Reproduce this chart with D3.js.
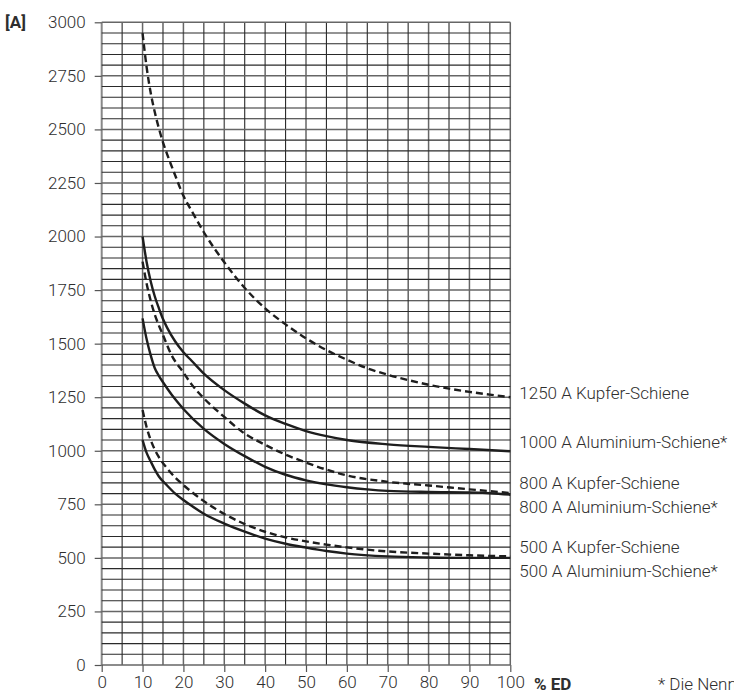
<!DOCTYPE html>
<html><head><meta charset="utf-8">
<script src="https://cdn.jsdelivr.net/npm/d3@7"></script>
<style>
body{margin:0;background:#fff;}
svg{display:block;font-family:Roboto,"Liberation Sans",sans-serif;}
</style></head><body>
<svg id="c" width="734" height="693"></svg>
<script>
// ---- data ----
const xTicks = [0,10,20,30,40,50,60,70,80,90,100];
const yTicks = [0,250,500,750,1000,1250,1500,1750,2000,2250,2500,2750,3000];
const seriesNames = ["1250 A Kupfer-Schiene","1000 A Aluminium-Schiene*","800 A Kupfer-Schiene","800 A Aluminium-Schiene*","500 A Kupfer-Schiene","500 A Aluminium-Schiene*"];
const seriesDashed = [true,false,true,false,true,false];
const edValues = [
  [10,11,12,13,14,15,16,18,20,22,25,30,35,40,45,50,55,60,65,70,75,80,85,90,95,100],
  [10,11,12,13,14,15,16,18,20,22,25,30,35,40,45,50,55,60,70,80,90,100],
  [10,11,12,13,14,15,17,20,22,25,30,35,40,45,50,55,60,70,80,90,100],
  [10,11,12,13,14,15,16,18,20,25,30,35,40,45,50,55,60,65,70,80,90,95,100],
  [10,11,12,13,14,16,18,20,22,25,30,35,40,45,50,55,60,70,80,90,100],
  [10,11,12,13,14,16,18,20,22,25,30,35,40,45,50,55,60,70,80,90,100]
];
const ampValues = [
  [2950,2790,2670,2580,2505,2440,2385,2285,2190,2120,2020,1880,1760,1665,1590,1525,1470,1425,1385,1355,1330,1308,1290,1275,1262,1250],
  [2000,1880,1790,1720,1665,1615,1575,1510,1460,1420,1360,1283,1220,1165,1125,1092,1068,1050,1030,1018,1008,998],
  [1883,1780,1700,1635,1585,1540,1450,1365,1310,1245,1158,1080,1028,982,945,912,885,855,838,820,803],
  [1618,1520,1445,1385,1350,1320,1292,1240,1195,1102,1032,975,925,888,862,843,830,820,813,808,806,802,795],
  [1190,1110,1050,1005,970,918,875,840,808,765,705,658,622,596,577,562,549,530,520,512,507],
  [1050,990,950,912,880,838,800,770,743,706,660,622,590,566,548,532,520,507,502,500,500]
];
const labelAmps = [1270,1042,851,739,552,440];

// ---- layout ----
const svg = d3.select("#c");
const x = d3.scaleLinear().domain([0,100]).range([101.7,510.3]);
const y = d3.scaleLinear().domain([0,3000]).range([665,22.3]);
const ink = "#1e1e1e";
const txt = "#2e2e2e";
const fontSize = 17;

// grid
const g = svg.append("g");
g.selectAll("line.v").data(d3.range(0,101,5)).join("line")
  .attr("x1",d=>x(d)).attr("x2",d=>x(d)).attr("y1",y(0)).attr("y2",y(3000))
  .attr("stroke",d=>d===0?"#888":(d%10===0?"#666":"#2a2a2a")).attr("stroke-width",d=>d===0?2:(d%10===0?1.5:1.1));
g.selectAll("line.h").data(d3.range(0,3001,50)).join("line")
  .attr("x1",x(0)).attr("x2",x(100)).attr("y1",d=>y(d)).attr("y2",d=>y(d))
  .attr("stroke",d=>d%250===0?"#666":"#2a2a2a").attr("stroke-width",d=>d%250===0?1.5:1.1);

// axes
const yAxis = svg.append("g").attr("transform",`translate(${x(0)},0)`)
  .call(d3.axisLeft(y).tickValues(yTicks).tickSize(7).tickPadding(9).tickFormat(d3.format("d")));
const xAxis = svg.append("g").attr("transform",`translate(0,${y(0)})`)
  .call(d3.axisBottom(x).tickValues(xTicks).tickSize(7).tickPadding(4).tickFormat(d3.format("d")));
[yAxis,xAxis].forEach(a=>{
  a.select(".domain").remove();
  a.selectAll(".tick line").attr("stroke","#555").attr("stroke-width",1.2);
  a.selectAll(".tick text").attr("fill",txt).style("font-size",fontSize+"px").style("font-family","Roboto, sans-serif").style("font-weight",300);
});

// curves
const line = d3.line().curve(d3.curveMonotoneX).x(d=>x(d[0])).y(d=>y(d[1]));
seriesNames.forEach((name,i)=>{
  const pts = edValues[i].map((e,j)=>[e,ampValues[i][j]]);
  svg.append("path").datum(pts).attr("d",line)
    .attr("fill","none").attr("stroke",ink).attr("stroke-width",2.4)
    .attr("stroke-dasharray",seriesDashed[i]?"7,4":null);
  svg.append("text").attr("x",x(100)+9).attr("y",y(labelAmps[i])).attr("dy","0.35em")
    .style("font-size",fontSize+"px").style("font-weight",300).attr("fill",txt).text(name);
});

// titles
svg.append("text").attr("x",5).attr("y",y(3000)).attr("dy","0.35em")
  .style("font-size",fontSize+"px").style("font-weight",700).attr("fill",txt).text("[A]");
svg.append("text").attr("x",534).attr("y",y(0)+19).attr("dy","0.35em")
  .style("font-size",fontSize+"px").style("font-weight",700).attr("fill",txt).text("% ED");
svg.append("text").attr("x",658).attr("y",y(0)+19).attr("dy","0.35em")
  .style("font-size",fontSize+"px").style("font-weight",300).attr("fill",txt).text("* Die Nennströme gelten");
</script>
</body></html>
